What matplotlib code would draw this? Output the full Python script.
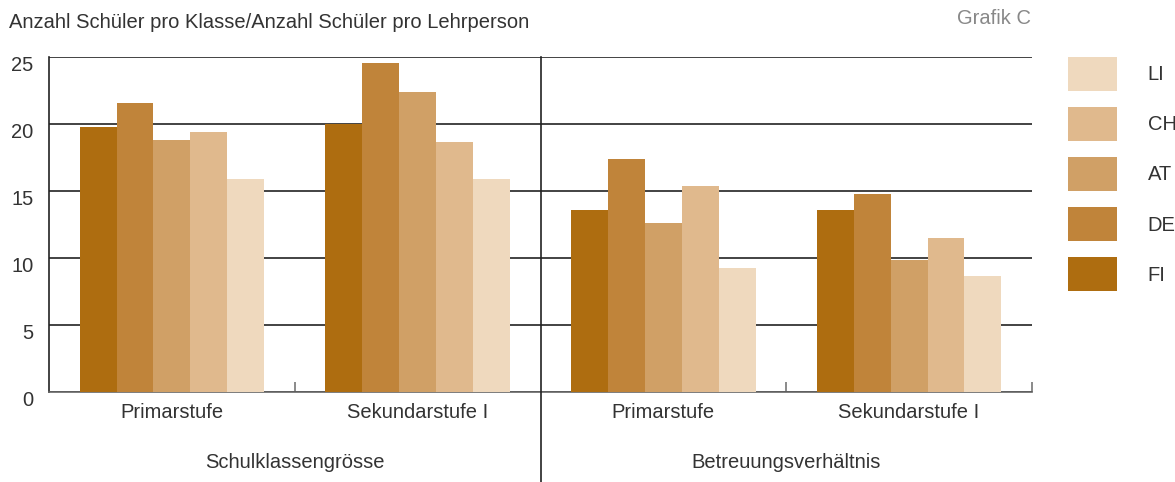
import matplotlib
matplotlib.use("Agg")
import matplotlib.pyplot as plt
import matplotlib.transforms as mtransforms
import numpy as np

plt.rcParams['font.family'] = ['Liberation Sans', 'DejaVu Sans']

countries = ["FI", "DE", "AT", "CH", "LI"]
colors = ["#AE6D10", "#C0843A", "#D0A066", "#E0B98D", "#EFD9BE"]
groups = ["Primarstufe", "Sekundarstufe I", "Primarstufe", "Sekundarstufe I"]
sections = ["Schulklassengrösse", "Betreuungsverhältnis"]

# values per country, one per group
fi = [19.8, 20.0, 13.6, 13.6]
de = [21.6, 24.6, 17.4, 14.8]
at = [18.8, 22.4, 12.6, 9.85]
ch = [19.4, 18.7, 15.4, 11.5]
li = [15.9, 15.9, 9.25, 8.65]
values = [fi, de, at, ch, li]

text_col = "#333333"
fs = 14.5

fig = plt.figure(figsize=(11.75, 4.82), dpi=100)
ax = fig.add_axes([49 / 1175, 1 - 392 / 482, (1032 - 49) / 1175, (392 - 57.3) / 482])

centers = np.arange(len(groups)) + 0.5
width = 0.15
bars = []
for i, (name, vals, col) in enumerate(zip(countries, values, colors)):
    b = ax.bar(centers + (i - 2) * width, vals, width, color=col, label=name, zorder=3)
    bars.append(b)

ax.set_xlim(0, 4)
ax.set_ylim(0, 25)
ax.set_yticks([0, 5, 10, 15, 20, 25])
ax.yaxis.grid(True, color="#222222", linewidth=1.2, zorder=1)
ax.set_axisbelow(True)
ax.tick_params(axis="y", length=0, pad=11, labelsize=fs, labelcolor=text_col)
offset = mtransforms.ScaledTranslation(0, -0.06, fig.dpi_scale_trans)
for lab in ax.get_yticklabels():
    lab.set_transform(lab.get_transform() + offset)

ax.set_xticks([1, 3, 4])
ax.set_xticklabels([])
ax.tick_params(axis="x", direction="in", length=7, color="#777777", width=1.2)

for s in ["top", "right"]:
    ax.spines[s].set_visible(False)
ax.spines["left"].set_color("#222222")
ax.spines["left"].set_linewidth(1.2)
ax.spines["bottom"].set_color("#666666")
ax.spines["bottom"].set_linewidth(1.2)

# divider between the two sections
ax.axvline(2, ymin=-0.3, ymax=1, color="#222222", linewidth=1.2, clip_on=False, zorder=4)

trans = mtransforms.blended_transform_factory(ax.transData, fig.transFigure)
for c, g in zip(centers, groups):
    ax.text(c, 1 - 412 / 482, g, transform=trans, ha="center", va="center",
            fontsize=fs, color=text_col)
for k, s in enumerate(sections):
    ax.text(2 * k + 1, 1 - 462 / 482, s, transform=trans, ha="center", va="center",
            fontsize=fs, color=text_col)

fig.text(9 / 1175, 1 - 22 / 482, "Anzahl Schüler pro Klasse/Anzahl Schüler pro Lehrperson",
         ha="left", va="center", fontsize=fs, color=text_col)
fig.text(1031 / 1175, 1 - 19 / 482, "Grafik C", ha="right", va="center",
         fontsize=fs, color="#888888")

leg = fig.legend(bars[::-1], countries[::-1], loc="upper left",
                 bbox_to_anchor=(1068 / 1175, 1 - 57 / 482), frameon=False,
                 fontsize=fs, handlelength=49 / 20, handleheight=2.22,
                 labelspacing=0.8, handletextpad=1.5, borderpad=0, borderaxespad=0)
for t in leg.get_texts():
    t.set_color(text_col)

fig.savefig("out.png", dpi=100)
